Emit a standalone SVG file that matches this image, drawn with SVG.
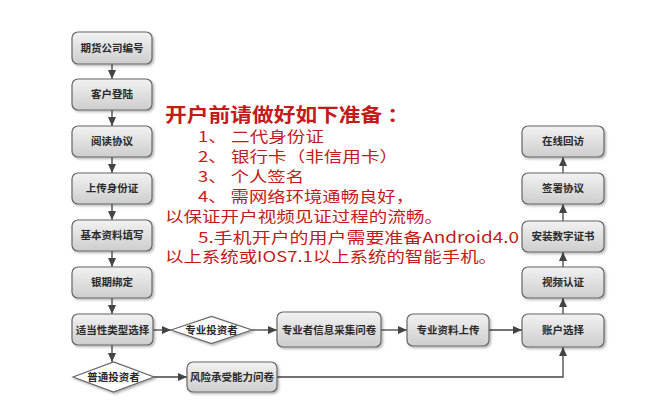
<svg xmlns="http://www.w3.org/2000/svg" width="661" height="413" viewBox="0 0 661 413">
<defs>
<linearGradient id="g" x1="0" y1="0" x2="0" y2="1">
<stop offset="0" stop-color="#f2f2f2"/>
<stop offset="1" stop-color="#cdcdcd"/>
</linearGradient>
<filter id="sh" x="-10%" y="-10%" width="130%" height="140%">
<feDropShadow dx="1.5" dy="1.5" stdDeviation="1" flood-color="#000" flood-opacity="0.3"/>
</filter>
<marker id="ah" viewBox="0 0 9 8" refX="9" refY="4" markerWidth="9" markerHeight="8" markerUnits="userSpaceOnUse" orient="auto">
<path d="M0,0 L9,4 L0,8 z" fill="#444"/>
</marker>
<style>
.box{fill:url(#g);stroke:#666;stroke-width:1.2;filter:url(#sh)}
.dia{fill:#fff;stroke:#666;stroke-width:1.2;filter:url(#sh)}
.lbl{font-family:"Noto Sans CJK SC","Noto Sans",sans-serif;font-size:10.5px;font-weight:bold;fill:#2a2a2a;text-anchor:middle}
.ln{fill:none;stroke:#444;stroke-width:1.3}
.red{font-family:"Noto Sans CJK SC","Noto Sans",sans-serif;fill:#c41a1a;font-size:15px}
.title{font-family:"Noto Sans CJK SC","Noto Sans",sans-serif;fill:#c41a1a;font-size:19px;font-weight:bold}
</style>
</defs>
<rect width="661" height="413" fill="#fff"/>

<g id="connectors">
<path class="ln" d="M112,64 V79" marker-end="url(#ah)"/>
<path class="ln" d="M112,110 V126" marker-end="url(#ah)"/>
<path class="ln" d="M112,157 V173" marker-end="url(#ah)"/>
<path class="ln" d="M112,204 V220" marker-end="url(#ah)"/>
<path class="ln" d="M112,251 V267" marker-end="url(#ah)"/>
<path class="ln" d="M112,298 V314" marker-end="url(#ah)"/>
<path class="ln" d="M112,345 V362" marker-end="url(#ah)"/>
<path class="ln" d="M153,330 H171" marker-end="url(#ah)"/>
<path class="ln" d="M252,330 H277" marker-end="url(#ah)"/>
<path class="ln" d="M381,330 H407" marker-end="url(#ah)"/>
<path class="ln" d="M489,330 H522" marker-end="url(#ah)"/>
<path class="ln" d="M154,377 H187" marker-end="url(#ah)"/>
<path class="ln" d="M277,377 H563 V347" marker-end="url(#ah)"/>
<path class="ln" d="M563,314 V298" marker-end="url(#ah)"/>
<path class="ln" d="M563,267 V252" marker-end="url(#ah)"/>
<path class="ln" d="M563,221 V204" marker-end="url(#ah)"/>
<path class="ln" d="M563,173 V157" marker-end="url(#ah)"/>
</g>

<g id="n1"><rect class="box" x="72" y="32" width="80" height="32" rx="6"/><text class="lbl" x="112" y="51.5">期货公司编号</text></g>
<g id="n2"><rect class="box" x="72" y="79" width="80" height="31" rx="6"/><text class="lbl" x="112" y="98">客户登陆</text></g>
<g id="n3"><rect class="box" x="72" y="126" width="80" height="31" rx="6"/><text class="lbl" x="112" y="145">阅读协议</text></g>
<g id="n4"><rect class="box" x="72" y="173" width="80" height="31" rx="6"/><text class="lbl" x="112" y="192">上传身份证</text></g>
<g id="n5"><rect class="box" x="72" y="220" width="80" height="31" rx="6"/><text class="lbl" x="112" y="239">基本资料填写</text></g>
<g id="n6"><rect class="box" x="72" y="267" width="80" height="31" rx="6"/><text class="lbl" x="112" y="286">银期绑定</text></g>
<g id="n7"><rect class="box" x="72" y="314" width="81" height="31" rx="6"/><text class="lbl" x="112.5" y="333.5">适当性类型选择</text></g>
<g id="d1"><path class="dia" d="M171,330 L211.5,316.5 L252,330 L211.5,343.5 Z"/><text class="lbl" x="211.5" y="334">专业投资者</text></g>
<g id="n8"><rect class="box" x="277" y="312" width="104" height="35" rx="6"/><text class="lbl" x="329" y="333.5">专业者信息采集问卷</text></g>
<g id="n9"><rect class="box" x="407" y="314" width="82" height="32" rx="6"/><text class="lbl" x="448" y="333.5">专业资料上传</text></g>
<g id="n10"><rect class="box" x="522" y="314" width="82" height="33" rx="6"/><text class="lbl" x="563" y="334">账户选择</text></g>
<g id="d2"><path class="dia" d="M73,377 L113.5,362 L154,377 L113.5,392 Z"/><text class="lbl" x="113.5" y="381">普通投资者</text></g>
<g id="n11"><rect class="box" x="187" y="362" width="90" height="30" rx="6"/><text class="lbl" x="232" y="380.5">风险承受能力问卷</text></g>
<g id="r1"><rect class="box" x="522" y="267" width="82" height="31" rx="6"/><text class="lbl" x="563" y="286">视频认证</text></g>
<g id="r2"><rect class="box" x="522" y="221" width="82" height="31" rx="6"/><text class="lbl" x="563" y="240">安装数字证书</text></g>
<g id="r3"><rect class="box" x="522" y="173" width="82" height="31" rx="6"/><text class="lbl" x="563" y="192">签署协议</text></g>
<g id="r4"><rect class="box" x="522" y="126" width="82" height="31" rx="6"/><text class="lbl" x="563" y="145">在线回访</text></g>

<g id="notes">
<text class="title" x="165" y="122" textLength="244" lengthAdjust="spacingAndGlyphs">开户前请做好如下准备 ：</text>
<text class="red" x="198" y="142" textLength="126" lengthAdjust="spacingAndGlyphs">1、 二代身份证</text>
<text class="red" x="198" y="162" textLength="200" lengthAdjust="spacingAndGlyphs">2、 银行卡（非信用卡）</text>
<text class="red" x="198" y="182" textLength="106" lengthAdjust="spacingAndGlyphs">3、 个人签名</text>
<text class="red" x="198" y="202" textLength="216" lengthAdjust="spacingAndGlyphs">4、 需网络环境通畅良好，</text>
<text class="red" x="165" y="222" textLength="278" lengthAdjust="spacingAndGlyphs">以保证开户视频见证过程的流畅。</text>
<text class="red" x="198" y="243" textLength="321" lengthAdjust="spacingAndGlyphs">5.手机开户的用户需要准备Android4.0</text>
<text class="red" x="165" y="262" textLength="332" lengthAdjust="spacingAndGlyphs">以上系统或IOS7.1以上系统的智能手机。</text>
</g>
</svg>
